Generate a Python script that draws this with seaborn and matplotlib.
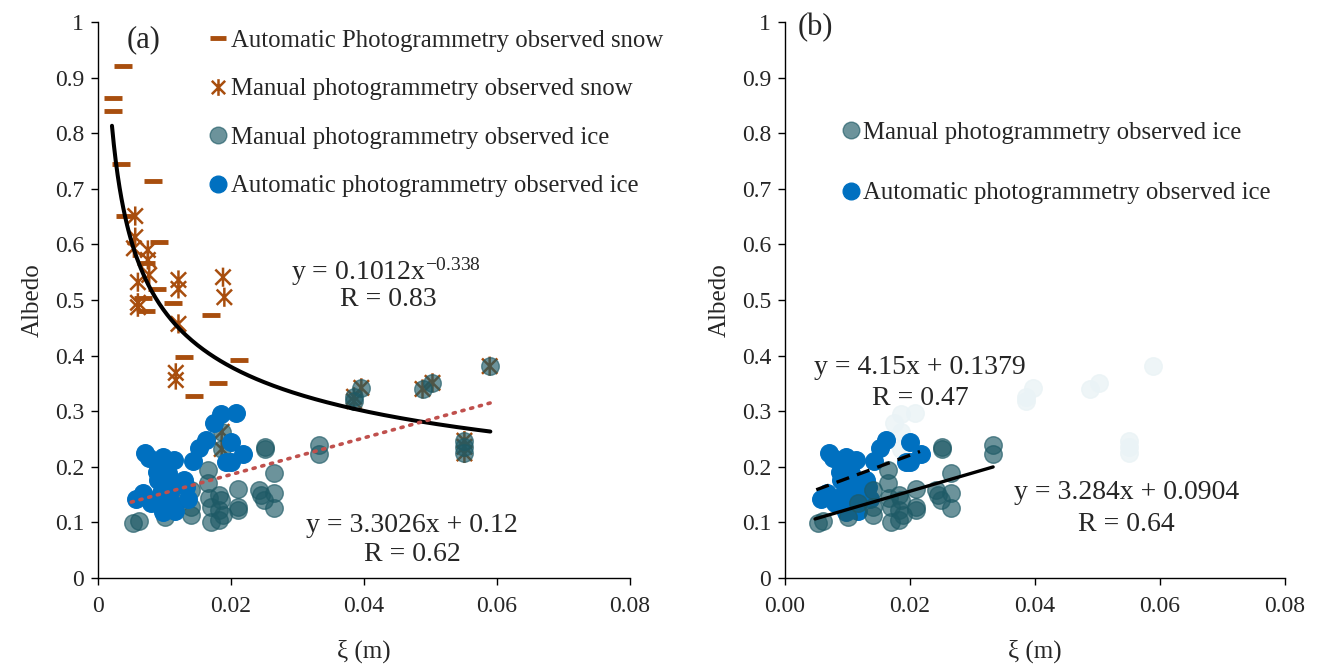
import numpy as np
import pandas as pd
import matplotlib
matplotlib.use("Agg")
import matplotlib.pyplot as plt
from matplotlib.path import Path
from matplotlib.lines import Line2D
import seaborn as sns

sns.set_theme(style="white")
plt.rcParams['font.family'] = ['Liberation Serif', 'DejaVu Serif']
plt.rcParams['mathtext.fontset'] = 'stix'

# ---------------- data ----------------
auto_snow_x = [0.0038, 0.0022, 0.0022, 0.0035, 0.0083, 0.0041, 0.0091, 0.0072, 0.0089,
               0.0067, 0.0072, 0.0113, 0.0170, 0.0130, 0.0212, 0.0180, 0.0145]
auto_snow_y = [0.921, 0.863, 0.840, 0.745, 0.714, 0.651, 0.604, 0.567, 0.520,
               0.504, 0.480, 0.495, 0.473, 0.397, 0.392, 0.351, 0.328]

manual_snow_x = [0.0056, 0.0056, 0.0054, 0.0075, 0.0075, 0.0077, 0.0060, 0.0121, 0.0121,
                 0.0188, 0.0190, 0.0060, 0.0060, 0.0121, 0.0117, 0.0117]
manual_snow_y = [0.651, 0.613, 0.593, 0.590, 0.572, 0.545, 0.532, 0.536, 0.520,
                 0.541, 0.505, 0.495, 0.487, 0.457, 0.369, 0.356]

# manual photogrammetry points observed as both snow and ice
both_x = [0.0186, 0.0186, 0.0385, 0.0385, 0.0396, 0.0488, 0.0503, 0.0551, 0.0551, 0.0551, 0.0589]
both_y = [0.263, 0.232, 0.318, 0.326, 0.342, 0.340, 0.351, 0.247, 0.236, 0.224, 0.381]

manual_ice_x = [0.0165, 0.0165, 0.0140, 0.0117, 0.0140, 0.0140, 0.0101, 0.0167, 0.0170,
                0.0182, 0.0185, 0.0182, 0.0188, 0.0170, 0.0182, 0.0210, 0.0210, 0.0210,
                0.0053, 0.0061, 0.0251, 0.0251, 0.0265, 0.0242, 0.0245, 0.0250, 0.0265,
                0.0265, 0.0332, 0.0332]
manual_ice_y = [0.194, 0.171, 0.158, 0.135, 0.128, 0.113, 0.110, 0.144, 0.128,
                0.149, 0.140, 0.122, 0.113, 0.101, 0.104, 0.160, 0.128, 0.122,
                0.099, 0.103, 0.236, 0.232, 0.189, 0.158, 0.149, 0.140, 0.153,
                0.126, 0.239, 0.223]

auto_ice_x = [0.0200, 0.0162, 0.0152, 0.0218, 0.0193, 0.0200, 0.0070, 0.0077, 0.0098,
              0.0114, 0.0143, 0.0088, 0.0105, 0.0090, 0.0107, 0.0130, 0.0110, 0.0133,
              0.0136, 0.0067, 0.0095, 0.0088, 0.0057, 0.0080, 0.0110, 0.0098, 0.0116]
auto_ice_y = [0.245, 0.248, 0.234, 0.223, 0.209, 0.209, 0.225, 0.216, 0.218,
              0.212, 0.210, 0.191, 0.189, 0.176, 0.171, 0.176, 0.158, 0.164,
              0.142, 0.153, 0.153, 0.140, 0.142, 0.135, 0.137, 0.119, 0.121]
# automatic ice points excluded from the panel (b) fit
auto_ice_out_x = [0.0185, 0.0208, 0.0174]
auto_ice_out_y = [0.295, 0.297, 0.278]

# fits
pow_a, pow_b, pow_range = 0.1012, -0.338, (0.0021, 0.059)
lin_a = (3.3026, 0.12, (0.005, 0.059))
lin_b_auto = (4.15, 0.1379, (0.005, 0.0216))
lin_b_man = (3.284, 0.0904, (0.0048, 0.0333))

# ---------------- styling ----------------
BROWN = "#A84E0E"
TEAL = "#1E5A66"
BLUE = "#0070C0"
RED = "#C0504D"
FS_TICK = 17
FS_LEG = 17.8
FS_ANN = 20
FS_LAB = 18
FS_PANEL = 22

star = Path([(-1, -1), (1, 1), (-1, 1), (1, -1), (0, -1.25), (0, 1.25)],
            [Path.MOVETO, Path.LINETO, Path.MOVETO, Path.LINETO, Path.MOVETO, Path.LINETO])

fig = plt.figure(figsize=(13.22, 6.67), dpi=100)
axA = fig.add_axes([98/1322, 1-578/667, (630-98)/1322, (578-22)/667])
axB = fig.add_axes([785/1322, 1-578/667, (1285-785)/1322, (578-22)/667])


def style_axes(ax, xfmt):
    ax.set_xlim(0, 0.08)
    ax.set_ylim(0, 1)
    xt = np.arange(0, 0.081, 0.02)
    yt = np.arange(0, 1.01, 0.1)
    ax.set_xticks(xt)
    ax.set_yticks(yt)
    ax.set_xticklabels([xfmt(v) for v in xt], fontsize=FS_TICK)
    ax.set_yticklabels(["0" if v == 0 else ("1" if abs(v-1) < 1e-9 else f"{v:.1f}") for v in yt],
                       fontsize=FS_TICK)
    for s in ["top", "right"]:
        ax.spines[s].set_visible(False)
    for s in ["left", "bottom"]:
        ax.spines[s].set_color("black")
        ax.spines[s].set_linewidth(1.0)
    ax.tick_params(axis="x", direction="out", length=5, width=1, color="black", pad=8, bottom=True)
    ax.tick_params(axis="y", direction="out", length=5, width=1, color="black", pad=5, left=True)
    ax.set_xlabel("ξ (m)", fontsize=FS_LAB, labelpad=16)
    ax.set_ylabel("Albedo", fontsize=FS_LAB, labelpad=8)
    ax.grid(False)


def fmt_a(v):
    return "0" if v == 0 else f"{v:.2f}"


def fmt_b(v):
    return f"{v:.2f}"


# ---------- panel (a) ----------
ax = axA
sns.scatterplot(x=auto_snow_x, y=auto_snow_y, ax=ax, marker="_", s=150, color=BROWN,
                linewidth=3.5, zorder=3, legend=False)
sns.scatterplot(x=manual_snow_x + both_x, y=manual_snow_y + both_y, ax=ax, marker=star, s=190,
                facecolor="none", edgecolor=BROWN, linewidth=1.8, zorder=3, legend=False)
sns.scatterplot(x=manual_ice_x + both_x, y=manual_ice_y + both_y, ax=ax, s=160, color=TEAL,
                alpha=0.65, edgecolor=TEAL, linewidth=1, zorder=4, legend=False)
sns.scatterplot(x=auto_ice_x + auto_ice_out_x, y=auto_ice_y + auto_ice_out_y, ax=ax, s=160,
                color=BLUE, edgecolor=BLUE, linewidth=1, zorder=5, legend=False)

xp = np.linspace(pow_range[0], pow_range[1], 200)
sns.lineplot(x=xp, y=pow_a * xp ** pow_b, ax=ax, color="black", linewidth=2.9, zorder=6)
xl = np.linspace(lin_a[2][0], lin_a[2][1], 50)
sns.lineplot(x=xl, y=lin_a[0] * xl + lin_a[1], ax=ax, color=RED, linewidth=2.6,
             linestyle=(0, (0.6, 1.9)), dash_capstyle="round", zorder=7)

style_axes(ax, fmt_a)
ax.text(0.0068, 0.968, "(a)", fontsize=FS_PANEL, ha="center", va="center")
ax.text(0.0433, 0.552, r"y = 0.1012x$^{\mathregular{-0.338}}$", fontsize=FS_ANN, ha="center", va="center")
ax.text(0.0437, 0.500, "R = 0.83", fontsize=FS_ANN, ha="center", va="center")
ax.text(0.0472, 0.095, "y = 3.3026x + 0.12", fontsize=FS_ANN, ha="center", va="center")
ax.text(0.0472, 0.042, "R = 0.62", fontsize=FS_ANN, ha="center", va="center")

handles_a = [
    Line2D([], [], marker="_", color=BROWN, linestyle="none", markersize=12, mew=3.5),
    Line2D([], [], marker=star, color=BROWN, linestyle="none", markersize=12, mew=1.8, mfc="none"),
    Line2D([], [], marker="o", color=TEAL, alpha=0.65, linestyle="none", markersize=12),
    Line2D([], [], marker="o", color=BLUE, linestyle="none", markersize=12),
]
labels_a = ["Automatic Photogrammetry observed snow", "Manual photogrammetry observed snow",
            "Manual photogrammetry observed ice", "Automatic photogrammetry observed ice"]
ax.legend(handles_a, labels_a, loc="upper left", bbox_to_anchor=(0.212, 0.9865), frameon=False,
          fontsize=FS_LEG, handlelength=0.6, handletextpad=0.2, labelspacing=1.06, borderpad=0,
          borderaxespad=0)

# ---------- panel (b) ----------
ax = axB
FADE = "#EAF3F6"
sns.scatterplot(x=both_x, y=both_y, ax=ax, s=160, color=FADE, edgecolor=FADE, alpha=0.8,
                linewidth=1, zorder=2, legend=False)
sns.scatterplot(x=auto_ice_out_x, y=auto_ice_out_y, ax=ax, s=160, color=FADE, edgecolor=FADE,
                alpha=0.8, linewidth=1, zorder=2, legend=False)
sns.scatterplot(x=manual_ice_x, y=manual_ice_y, ax=ax, s=160, color=TEAL, alpha=0.65,
                edgecolor=TEAL, linewidth=1, zorder=4, legend=False)
sns.scatterplot(x=auto_ice_x, y=auto_ice_y, ax=ax, s=160, color=BLUE, edgecolor=BLUE,
                linewidth=1, zorder=3, legend=False)

x1 = np.linspace(lin_b_man[2][0], lin_b_man[2][1], 50)
sns.lineplot(x=x1, y=lin_b_man[0] * x1 + lin_b_man[1], ax=ax, color="black", linewidth=2.4, zorder=6)
x2 = np.linspace(lin_b_auto[2][0], lin_b_auto[2][1], 50)
sns.lineplot(x=x2, y=lin_b_auto[0] * x2 + lin_b_auto[1], ax=ax, color="black", linewidth=2.4,
             linestyle=(0, (4, 2.5)), zorder=6)

style_axes(ax, fmt_b)
ax.text(0.0048, 0.99, "(b)", fontsize=FS_PANEL, ha="center", va="center")
ax.text(0.0216, 0.378, "y = 4.15x + 0.1379", fontsize=FS_ANN, ha="center", va="center")
ax.text(0.0216, 0.322, "R = 0.47", fontsize=FS_ANN, ha="center", va="center")
ax.text(0.0546, 0.153, "y = 3.284x + 0.0904", fontsize=FS_ANN, ha="center", va="center")
ax.text(0.0546, 0.097, "R = 0.64", fontsize=FS_ANN, ha="center", va="center")

handles_b = handles_a[2:]
ax.legend(handles_b, labels_a[2:], loc="upper left", bbox_to_anchor=(0.117, 0.821), frameon=False,
          fontsize=FS_LEG, handlelength=0.6, handletextpad=0.2, labelspacing=1.55, borderpad=0,
          borderaxespad=0)

fig.savefig("out.png", dpi=100)
